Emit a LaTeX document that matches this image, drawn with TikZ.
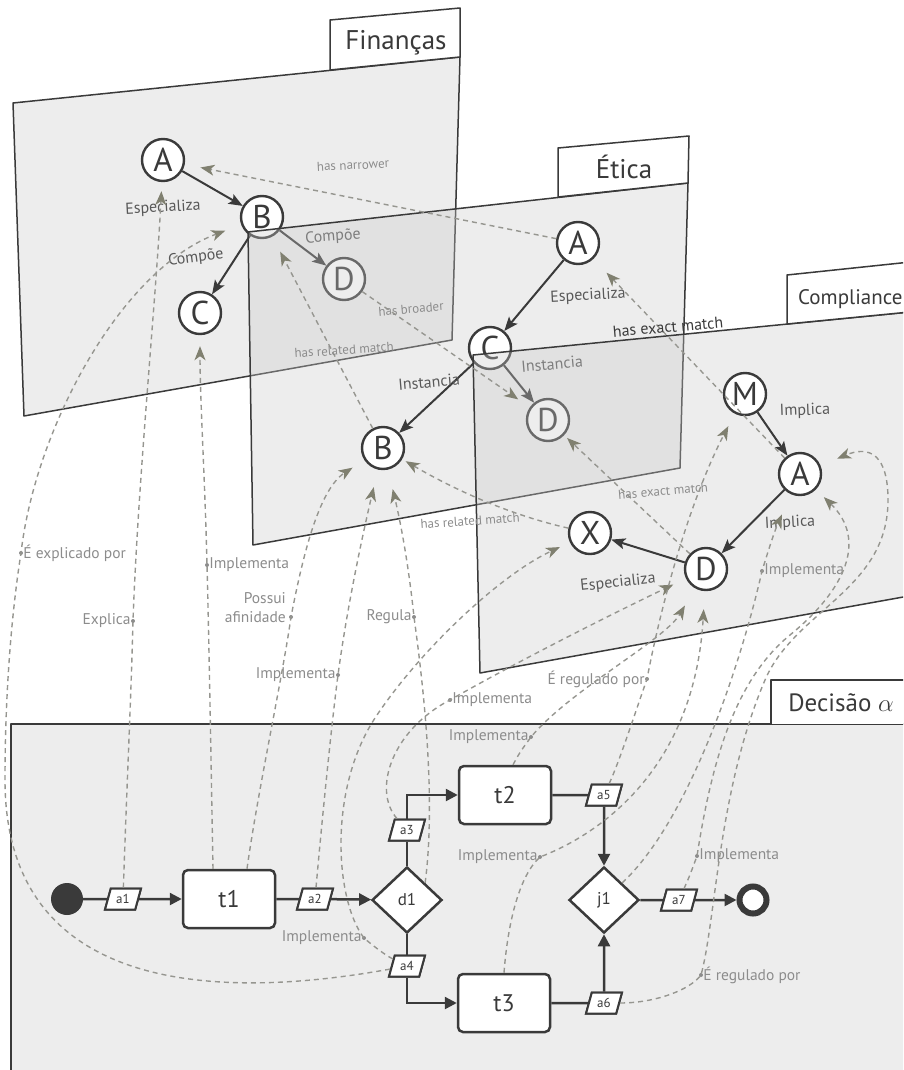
\documentclass[tikz,border=0pt]{standalone}
\usepackage{fontspec}
\setmainfont{PT Sans}
\usepackage{tikz}
\usetikzlibrary{positioning, calc, shapes.geometric, arrows.meta}

\definecolor{ink}{RGB}{58,58,58}
\definecolor{soft}{RGB}{88,88,88}
\definecolor{relgray}{RGB}{150,150,144}
\definecolor{tipgray}{RGB}{128,128,112}
\definecolor{txtgray}{RGB}{140,140,140}

\begin{document}
\begin{tikzpicture}[x=1pt, y=-1pt]
  \tikzstyle{plane}=[draw=ink, line width=1.5pt, fill=black!21, fill opacity=0.33, line join=round]
  \tikzstyle{tab}=[draw=ink, line width=1.5pt, fill=white, line join=round]
  \tikzstyle{tabtitle}=[text=ink, font=\fontsize{27}{27}\selectfont, inner sep=0pt]
  \tikzstyle{concept}=[circle, draw=ink, line width=2.4pt, fill=white, minimum size=42pt, inner sep=0pt, text=ink, font=\fontsize{33}{33}\selectfont]
  \tikzstyle{rel}=[draw=ink, line width=2pt, -{Stealth[length=14pt, width=11pt, inset=3pt]}]
  \tikzstyle{rellbl}=[text=soft, font=\fontsize{16}{16}\selectfont, inner sep=0pt]
  \tikzstyle{xrel}=[draw=relgray, line width=1.4pt, dash pattern=on 5pt off 4pt, -{Stealth[length=14pt, width=11pt, inset=4pt, color=tipgray]}, shorten >=12pt]
  \tikzstyle{xlbl}=[text=txtgray, font=\fontsize{13}{13}\selectfont, inner sep=0pt]
  \tikzstyle{dlbl}=[text=txtgray, font=\fontsize{15.5}{15.5}\selectfont, inner sep=0pt]
  \tikzstyle{reldot}=[circle, fill=txtgray, minimum size=4pt, inner sep=0pt, label distance=3pt]
  \tikzstyle{flow}=[draw=ink, line width=2.5pt, -{Triangle[length=12pt, width=12pt]}]
  \tikzstyle{task}=[rectangle, rounded corners=5pt, draw=ink, line width=2.5pt, fill=white, minimum width=92pt, minimum height=58pt, font=\fontsize{24}{24}\selectfont, text=ink]
  \tikzstyle{gate}=[diamond, draw=ink, line width=2.5pt, fill=white, minimum width=70pt, minimum height=66pt, inner sep=0pt, font=\fontsize{17}{17}\selectfont, text=ink]
  \tikzstyle{param}=[trapezium, trapezium left angle=72, trapezium right angle=108, trapezium stretches=true, draw=ink, line width=2pt, fill=white, minimum width=36pt, minimum height=21pt, inner sep=1pt, font=\fontsize{13}{13}\selectfont, text=ink]

  \useasboundingbox (0,0) rectangle (903,1070);
  \clip (0,0) rectangle (903,1070);

  % financas layer
  \draw[plane] (13,103) -- (460,57) -- (452,340) -- (24,416) -- cycle;
  \draw[tab] (330,70) -- (330,20) -- (460,8) -- (460,57) -- cycle;
  \node[tabtitle] (tFin) at (396,43) {Finanças};
  \node[concept] (finA) at (163,160) {A};
  \node[concept] (finB) at (262,217) {B};
  \node[concept] (finC) at (200,313) {C};
  \node[concept] (finD) at (344,279) {D};
  \draw[rel] (finA) -- (finB);
  \draw[rel] (finB) -- (finC);
  \draw[rel] (finB) -- (finD);
  \node[rellbl, rotate=3] (lFinEsp) at (163,208) {Especializa};
  \node[rellbl, rotate=7] (lFinCompC) at (196,258) {Compõe};
  \node[rellbl, rotate=4] (lFinCompD) at (333,237) {Compõe};

  % etica layer
  \draw[plane] (248,232) -- (688,183) -- (680,468) -- (253,545) -- cycle;
  \draw[tab] (558,197) -- (558,148) -- (689,136) -- (688,183) -- cycle;
  \node[tabtitle] (tEt) at (624,167) {Ética};
  \node[concept] (etA) at (578,243) {A};
  \node[concept] (etC) at (490,348) {C};
  \node[concept] (etD) at (548,420) {D};
  \node[concept] (etB) at (383,448) {B};
  \draw[rel] (etA) -- (etC);
  \draw[rel] (etC) -- (etD);
  \draw[rel] (etC) -- (etB);
  \node[rellbl, rotate=3] (lEtEsp) at (588,296) {Especializa};
  \node[rellbl, rotate=5] (lEtInstD) at (552,364) {Instancia};
  \node[rellbl, rotate=5] (lEtInstB) at (429,382) {Instancia};

  % compliance layer
  \draw[plane] (473,355) -- (920,311) -- (920,594) -- (480,673) -- cycle;
  \draw[tab] (787,324) -- (787,275) -- (920,261) -- (920,311) -- cycle;
  \node[tabtitle, anchor=west, font=\fontsize{21}{21}\selectfont] (tCp) at (798,299) {Compliance};
  \node[concept] (cpM) at (745,394) {M};
  \node[concept] (cpA) at (800,474) {A};
  \node[concept] (cpD) at (706,569) {D};
  \node[concept] (cpX) at (590,533) {X};
  \draw[rel] (cpM) -- (cpA);
  \draw[rel] (cpA) -- (cpD);
  \draw[rel] (cpD) -- (cpX);
  \node[rellbl, rotate=2] (lCpImpM) at (805,411) {Implica};
  \node[rellbl, rotate=3] (lCpImpD) at (790,523) {Implica};
  \node[rellbl, rotate=6] (lCpEsp) at (618,583) {Especializa};

  % decisao layer
  \draw[plane] (11,1090) -- (11,724) -- (920,724) -- (920,1090);
  \draw[tab] (771,724) -- (771,680) -- (920,680) -- (920,724);
  \node[tabtitle, font=\fontsize{25}{25}\selectfont] (tDec) at (841,703) {Decisão $\alpha$};
  \node[circle, fill=ink, minimum size=32pt, inner sep=0pt] (ini) at (67,899) {};
  \node[param] (a1) at (123,899) {a1};
  \node[task] (t1) at (229,899) {t1};
  \node[param] (a2) at (315,899) {a2};
  \node[gate] (d1) at (407,900) {d1};
  \node[param] (a3) at (407,830) {a3};
  \node[param] (a4) at (407,966) {a4};
  \node[task] (t2) at (505,795) {t2};
  \node[task] (t3) at (504,1003) {t3};
  \node[param] (a5) at (604,795) {a5};
  \node[param] (a6) at (604,1003) {a6};
  \node[gate] (j1) at (604,900) {j1};
  \node[param] (a7) at (679,900) {a7};
  \node[circle, draw=ink, line width=6pt, fill=white, minimum size=27pt, inner sep=0pt] (fim) at (753,900) {};
  \draw[flow] (ini) -- (a1) -- (t1);
  \draw[flow] (t1) -- (a2) -- (d1);
  \draw[flow] (d1) -- (a3) |- (t2);
  \draw[flow] (d1) -- (a4) |- (t3);
  \draw[flow] (t2) -- (a5) -- (j1);
  \draw[flow] (t3) -- (a6) -- (j1);
  \draw[flow] (j1) -- (a7) -- (fim);
  % redraw params over the flow lines
  \foreach \p in {a1,a2,a3,a4,a5,a6,a7} {
    \node[param] at (\p) {\p};
  }

  % links between the layers
  \draw[xrel, shorten >=16pt] (etA) -- (finA);
  \node[xlbl, rotate=3] (lNarrower) at (353,165) {has narrower};
  \draw[xrel, shorten >=14pt] (finD) -- (etD);
  \node[xlbl, rotate=5] (lBroader) at (411,309) {has broader};
  \draw[xrel, shorten >=17pt] (etB) -- (finB);
  \node[xlbl, rotate=4] (lRelated1) at (344,350) {has related match};
  \draw[xrel, shorten >=4pt] (cpX) .. controls (510,515) and (455,490) .. (etB);
  \node[xlbl, rotate=4] (lRelated2) at (470,521) {has related match};
  \draw[xrel, shorten >=4pt] (cpD) -- (etD);
  \node[xlbl, rotate=5] (lExact1) at (663,491) {has exact match};
  \draw[xrel, shorten >=19pt] (cpA) -- (etA);
  \node[rellbl, text=ink, rotate=5] (lExact2) at (668,327) {has exact match};

  % links from the decision
  \node[reldot, label={[dlbl, name=lExplicado]right:É explicado por}] (dExplicado) at (21,553) {};
  \node[reldot, label={[dlbl, name=lExplica]left:Explica}] (dExplica) at (133,621) {};
  \node[reldot, label={[dlbl, name=lImplC]right:Implementa}] (dImplC) at (207,565) {};
  \node[reldot] (dAfin) at (291,617) {};
  \node[dlbl, align=right, anchor=east, font=\fontsize{15.5}{19}\selectfont] (lAfin) at (286,608) {Possui\\afinidade};
  \node[reldot, label={[dlbl, name=lImplB]left:Implementa}] (dImplB) at (338,675) {};
  \node[reldot, label={[dlbl, name=lRegula]left:Regula}] (dRegula) at (414,617) {};
  \node[reldot, label={[dlbl, name=lImplD1]right:Implementa}] (dImplD1) at (450,700) {};
  \node[reldot, label={[dlbl, name=lImplD2]left:Implementa}] (dImplD2) at (531,737) {};
  \node[reldot, label={[dlbl, name=lRegM]left:É regulado por}] (dRegM) at (647,679) {};
  \node[reldot, label={[dlbl, name=lImplX]left:Implementa}] (dImplX) at (364,938) {};
  \node[reldot, label={[dlbl, name=lImplD3]left:Implementa}] (dImplD3) at (540,857) {};
  \node[reldot, label={[dlbl, name=lImplA2]right:Implementa}] (dImplA2) at (697,856) {};
  \node[reldot, label={[dlbl, name=lImplA1]right:Implementa}] (dImplA1) at (762,571) {};
  \node[reldot, label={[dlbl, name=lRegA]right:É regulado por}] (dRegA) at (701,975) {};

  \draw[xrel, shorten >=9pt] (a1) .. controls (127,780) and (131,700) .. (dExplica.center)
    .. controls (138,480) and (156,300) .. (finA);
  \draw[xrel, shorten >=17pt] (a4) .. controls (220,1000) and (5,995) .. (5,780)
    .. controls (5,690) and (12,610) .. (dExplicado.center)
    .. controls (35,430) and (120,270) .. (finB);
  \draw[xrel, shorten >=11pt] ([xshift=-16pt]t1.north) .. controls (211,760) and (209,640) .. (dImplC.center)
    .. controls (205,480) and (200,400) .. (finC);
  \draw[xrel, shorten >=14pt] ([xshift=18pt]t1.north) .. controls (258,790) and (282,680) .. (dAfin.center)
    .. controls (302,560) and (318,490) .. (etB);
  \draw[xrel, shorten >=18pt] (a2) .. controls (322,820) and (332,720) .. (dImplB.center)
    .. controls (348,600) and (366,520) .. (etB);
  \draw[xrel, shorten >=20pt] (d1.north east) .. controls (436,800) and (424,690) .. (dRegula.center)
    .. controls (408,560) and (400,520) .. (etB);
  \draw[xrel, shorten >=14pt] (a3) .. controls (372,790) and (392,730) .. (dImplD1.center)
    .. controls (520,660) and (620,610) .. (cpD);
  \draw[xrel, shorten >=11pt] (a4) .. controls (385,955) and (372,945) .. (dImplX.center)
    .. controls (335,900) and (328,790) .. (375,718)
    .. controls (420,650) and (500,575) .. (cpX);
  \draw[xrel, shorten >=20pt] ([xshift=8pt]t2.north) .. controls (520,752) .. (dImplD2.center)
    .. controls (570,690) and (665,640) .. (cpD);
  \draw[xrel, shorten >=14pt] (a5) .. controls (620,760) and (636,710) .. (dRegM.center)
    .. controls (662,600) and (690,500) .. (cpM);
  \draw[xrel, shorten >=18pt] (t3.north) .. controls (508,920) and (520,875) .. (dImplD3.center)
    .. controls (610,830) and (695,760) .. (cpD);
  \draw[xrel, shorten >=22pt] (j1.north east) .. controls (690,820) and (742,660) .. (dImplA1.center)
    .. controls (770,545) and (775,530) .. (cpA);
  \draw[xrel, shorten >=11pt] (a7) .. controls (690,875) .. (dImplA2.center)
    .. controls (712,760) and (735,680) .. (790,635)
    .. controls (845,590) and (868,540) .. (cpA);
  \draw[xrel, shorten >=18pt] (a6) .. controls (655,1003) and (690,990) .. (dRegA.center)
    .. controls (716,920) and (718,790) .. (765,680)
    .. controls (795,610) and (888,590) .. (888,500)
    .. controls (888,455) and (870,445) .. (cpA);
\end{tikzpicture}
\end{document}
